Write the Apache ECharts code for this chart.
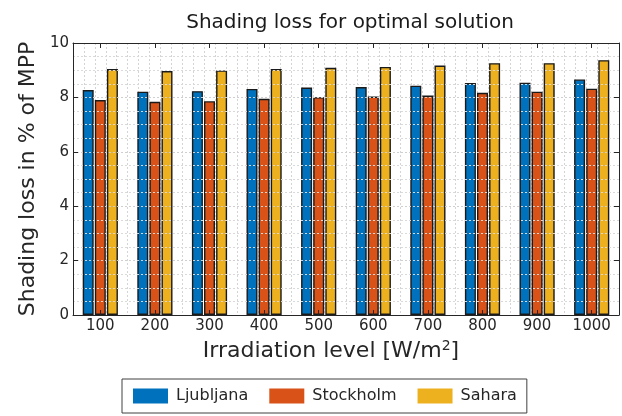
<!DOCTYPE html>
<html>
<head>
<meta charset="utf-8">
<script src="https://cdn.jsdelivr.net/npm/echarts@6/dist/echarts.min.js"></script>
<style>html,body{margin:0;padding:0;background:#fff}#c{width:622px;height:416px}</style>
</head>
<body>
<div id="c"></div>
<script>
const categories = ['100','200','300','400','500','600','700','800','900','1000'];
const ljubljana = [8.27,8.21,8.23,8.31,8.36,8.38,8.43,8.53,8.54,8.66];
const stockholm = [7.90,7.84,7.86,7.95,8.01,8.03,8.07,8.17,8.21,8.32];
const sahara    = [9.04,8.97,8.99,9.04,9.09,9.12,9.17,9.26,9.26,9.37];
const seriesNames = ['Ljubljana','Stockholm','Sahara'];
const colors = ['#0072BD','#D95319','#EDB120'];

const font = 'DejaVu Sans';
const txt = '#262626';
const chart = echarts.init(document.getElementById('c'), null, {renderer:'canvas'});
const bar = (name, data, color) => ({
  name, type:'bar', data, xAxisIndex:0, yAxisIndex:0,
  barWidth:11, barGap:'10%',
  itemStyle:{color, borderColor:'#1a1a1a', borderWidth:1.4},
  z:5
});
chart.setOption({
  animation:false,
  backgroundColor:'#fff',
  title:{text:'Shading loss for optimal solution', left:345, textAlign:'center', top:8,
    textStyle:{fontFamily:font, fontSize:20, fontWeight:'normal', color:'#1a1a1a'}},
  grid:{left:73, right:3, top:43, bottom:101},
  legend:{
    left:122, top:379, data:seriesNames, icon:'rect',
    itemWidth:35, itemHeight:15, itemGap:21,
    borderColor:'#404040', borderWidth:1, padding:[9,10,9,11],
    textStyle:{fontFamily:font, fontSize:16, color:txt, padding:[0,0,0,3]},
    itemStyle:{borderWidth:0}
  },
  xAxis:[
    {type:'category', data:categories, position:'bottom', boundaryGap:true,
     name:'Irradiation level [W/m{sup|2}]', nameLocation:'middle', nameGap:24,
     nameTextStyle:{fontFamily:font, fontSize:22, color:txt, padding:[0,30,0,0],
       rich:{sup:{fontFamily:font, fontSize:14, color:txt, verticalAlign:'top', padding:[0,0,10,0]}}},
     axisLine:{show:true, onZero:false, lineStyle:{color:txt, width:1}},
     axisTick:{show:true, inside:true, alignWithLabel:true, length:5, lineStyle:{color:txt}},
     axisLabel:{fontFamily:font, fontSize:15, color:txt, margin:4},
     splitLine:{show:false}, z:10},
    {type:'category', data:categories, position:'top', boundaryGap:true,
     axisLine:{show:true, onZero:false, lineStyle:{color:txt, width:1}},
     axisTick:{show:true, inside:true, alignWithLabel:true, length:5, lineStyle:{color:txt}},
     axisLabel:{show:false}, splitLine:{show:false}, z:10},
    {type:'value', min:-2.5, max:47.5, interval:1, position:'bottom',
     axisLine:{show:false, onZero:false}, axisTick:{show:false}, axisLabel:{show:false},
     splitLine:{show:true, lineStyle:{color:'#d4d4d4', type:[2,2], width:1}}}
  ],
  yAxis:[
    {type:'value', min:0, max:10, interval:2, position:'left',
     name:'Shading loss in % of MPP', nameLocation:'middle', nameGap:27,
     nameTextStyle:{fontFamily:font, fontSize:22, color:txt},
     axisLine:{show:true, onZero:false, lineStyle:{color:txt, width:1}},
     axisTick:{show:true, inside:true, length:5, lineStyle:{color:txt}},
     axisLabel:{fontFamily:font, fontSize:15, color:txt, margin:4},
     splitLine:{show:true, lineStyle:{color:'#cfcfcf', type:[2,2], width:1}},
     minorSplitLine:{show:true, lineStyle:{color:'#d9d9d9', type:[2,2], width:1}},
     minorTick:{show:false, splitNumber:4}, z:10},
    {type:'value', min:0, max:10, interval:2, position:'right',
     axisLine:{show:true, onZero:false, lineStyle:{color:txt, width:1}},
     axisTick:{show:true, inside:true, length:5, lineStyle:{color:txt}},
     axisLabel:{show:false}, splitLine:{show:false}, z:10}
  ],
  series:[
    bar(seriesNames[0], ljubljana, colors[0]),
    bar(seriesNames[1], stockholm, colors[1]),
    bar(seriesNames[2], sahara, colors[2])
  ]
});
</script>
</body>
</html>
